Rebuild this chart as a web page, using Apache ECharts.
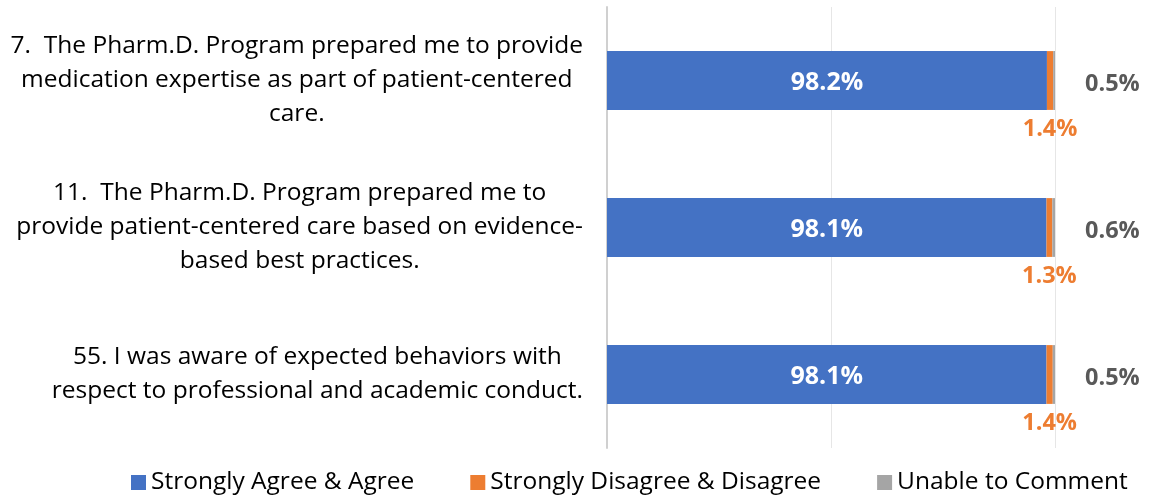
<!DOCTYPE html>
<html>
<head>
<meta charset="utf-8">
<script src="https://cdn.jsdelivr.net/npm/echarts@6/dist/echarts.min.js"></script>
<style>
  html, body { margin: 0; padding: 0; background: #fff; }
  #chart { width: 1149px; height: 496px; }
</style>
</head>
<body>
<div id="chart"></div>
<script>
// questions, top to bottom (each entry = lines of the label)
const questions = [
  ['7.  The Pharm.D. Program prepared me to provide', 'medication expertise as part of patient-centered', 'care.'],
  ['11.  The Pharm.D. Program prepared me to', 'provide patient-centered care based on evidence-', 'based best practices.'],
  ['55. I was aware of expected behaviors with', 'respect to professional and academic conduct.']
];
const seriesNames = ['Strongly Agree & Agree', 'Strongly Disagree & Disagree', 'Unable to Comment'];
const agree = [98.2, 98.1, 98.1];
const disagree = [1.4, 1.3, 1.4];
const unable = [0.5, 0.6, 0.5];

const font = 'Open Sans';
const chart = echarts.init(document.getElementById('chart'));

// category axis runs bottom-up, so reverse for display order
const cats = questions.map(q => q.map(l => '{c|' + l + '}').join('\n')).reverse();
const rev = a => a.slice().reverse();
const pct = p => p.value + '%';

chart.setOption({
  animation: false,
  textStyle: { fontFamily: font },
  grid: { left: 607, right: 94, top: 7, bottom: 48 },
  legend: {
    top: 465,
    left: 126,
    itemWidth: 15,
    itemHeight: 15,
    itemGap: 56,
    icon: 'rect',
    textStyle: { fontSize: 24.5, color: '#000', fontFamily: font },
    data: seriesNames
  },
  xAxis: {
    type: 'value',
    min: 0,
    max: 100,
    interval: 50,
    axisLabel: { show: false },
    axisLine: { show: false },
    axisTick: { show: false },
    splitLine: { lineStyle: { color: '#e6e6e6', width: 1 } }
  },
  yAxis: {
    type: 'category',
    data: cats,
    axisTick: { show: false },
    axisLine: { lineStyle: { color: '#d0d0d0', width: 2 } },
    axisLabel: {
      margin: 24,
      align: 'right',
      rich: {
        c: { fontSize: 24.5, lineHeight: 34, color: '#000', align: 'center', fontFamily: font }
      }
    }
  },
  series: [
    {
      name: seriesNames[0], type: 'bar', stack: 'all', barWidth: '40%',
      data: rev(agree),
      itemStyle: { color: '#4472C4' },
      label: { show: true, position: 'inside', offset: [0, 2], formatter: pct,
        color: '#fff', fontWeight: 'bold', fontSize: 25, fontFamily: font }
    },
    {
      name: seriesNames[1], type: 'bar', stack: 'all',
      data: rev(disagree),
      itemStyle: { color: '#ED7D31' },
      label: { show: true, position: 'bottom', distance: 7, formatter: pct,
        color: '#ED7D31', fontWeight: 'bold', fontSize: 23.5, fontFamily: font }
    },
    {
      name: seriesNames[2], type: 'bar', stack: 'all',
      data: rev(unable),
      itemStyle: { color: '#A5A5A5' },
      label: { show: true, position: 'right', distance: 30, offset: [0, 4], formatter: pct,
        color: '#595959', fontWeight: 'bold', fontSize: 23.5, fontFamily: font }
    }
  ]
});
</script>
</body>
</html>
